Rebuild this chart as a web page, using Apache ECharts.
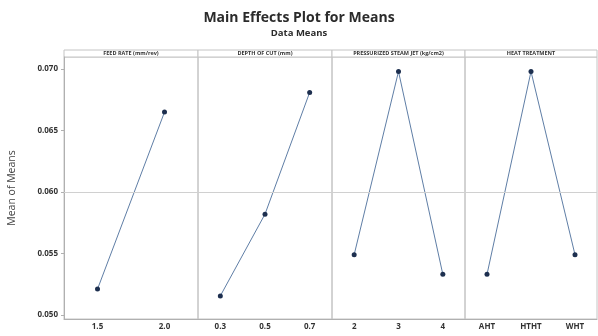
<!DOCTYPE html>
<html>
<head>
<meta charset="utf-8">
<script src="https://cdn.jsdelivr.net/npm/echarts@6/dist/echarts.min.js"></script>
<style>
  html, body { margin: 0; padding: 0; background: #fff; }
  #chart { width: 598px; height: 336px; }
</style>
</head>
<body>
<div id="chart"></div>
<script>
// factor levels and the mean of means at each level
const panelTitles = ['FEED RATE (mm/rev)', 'DEPTH OF CUT (mm)', 'PRESSURIZED STEAM JET (kg/cm2)', 'HEAT TREATMENT'];
const feedLevels = ['1.5', '2.0'];
const feedMeans = [0.0521, 0.0665];
const depthLevels = ['0.3', '0.5', '0.7'];
const depthMeans = [0.05155, 0.0582, 0.0681];
const steamLevels = ['2', '3', '4'];
const steamMeans = [0.0549, 0.0698, 0.0533];
const heatLevels = ['AHT', 'HTHT', 'WHT'];
const heatMeans = [0.0533, 0.0698, 0.0549];
const yTicks = [0.050, 0.055, 0.060, 0.065, 0.070];

const levels = [feedLevels, depthLevels, steamLevels, heatLevels];
const means = [feedMeans, depthMeans, steamMeans, heatMeans];
const grandMean = feedMeans.reduce((a, b) => a + b, 0) / feedMeans.length;

const panelLeft = [64, 198, 332, 465];
const panelWidth = [134, 134, 133, 132];
const plotTop = 57;
const plotBottom = 17;
const stripTop = 50;
const font = '"Open Sans", "Noto Sans", sans-serif';

const chart = echarts.init(document.getElementById('chart'));

const grids = panelLeft.map((left, i) => ({
  left,
  width: panelWidth[i],
  top: plotTop,
  bottom: plotBottom,
  show: true,
  borderColor: '#c4c4c4',
  borderWidth: 1,
}));

const xAxes = levels.map((cats, i) => ({
  type: 'category',
  gridIndex: i,
  data: cats,
  boundaryGap: true,
  axisLine: { lineStyle: { color: '#b0b0b0' } },
  axisTick: { show: false },
  axisLabel: { color: '#333', fontSize: 8, fontWeight: 'bold', fontFamily: font, margin: 4 },
  splitLine: { show: false },
}));

const yAxes = levels.map((cats, i) => ({
  type: 'value',
  gridIndex: i,
  min: 0.04967,
  max: 0.07098,
  name: i === 0 ? 'Mean of Means' : '',
  nameLocation: 'middle',
  nameGap: 46,
  nameTextStyle: { color: '#444', fontSize: 10.5, fontFamily: font },
  axisLine: { show: i === 0, lineStyle: { color: '#b0b0b0' } },
  axisTick: { show: i === 0, customValues: yTicks, length: 3, lineStyle: { color: '#b0b0b0' } },
  axisLabel: {
    show: i === 0,
    customValues: yTicks,
    color: '#333',
    fontSize: 8,
    fontWeight: 'bold',
    fontFamily: font,
    margin: 6,
    formatter: (v) => v.toFixed(3),
  },
  splitLine: { show: false },
}));

const series = means.map((vals, i) => ({
  type: 'line',
  xAxisIndex: i,
  yAxisIndex: i,
  data: vals,
  symbol: 'circle',
  symbolSize: 5,
  itemStyle: { color: '#1d2f4f' },
  lineStyle: { color: '#5f7ea6', width: 1 },
  animation: false,
  markLine: {
    silent: true,
    symbol: 'none',
    label: { show: false },
    lineStyle: { color: '#d0d0d0', type: 'solid', width: 1 },
    data: [{ yAxis: grandMean }],
  },
}));

// header strips above each panel
const strips = [];
panelLeft.forEach((left, i) => {
  strips.push({
    type: 'rect',
    shape: { x: left, y: stripTop, width: panelWidth[i], height: plotTop - stripTop },
    style: { fill: '#ffffff', stroke: '#c4c4c4', lineWidth: 1 },
    silent: true,
  });
  strips.push({
    type: 'text',
    x: left + panelWidth[i] / 2,
    y: stripTop + (plotTop - stripTop) / 2,
    style: {
      text: panelTitles[i],
      fill: '#333',
      font: 'bold 5.5px ' + font,
      align: 'center',
      verticalAlign: 'middle',
    },
    silent: true,
  });
});

chart.setOption({
  animation: false,
  backgroundColor: '#fff',
  title: [
    {
      text: 'Main Effects Plot for Means',
      left: 'center',
      top: 6,
      textStyle: { color: '#2b2b2b', fontSize: 14, fontWeight: 'bold', fontFamily: font },
    },
    {
      text: 'Data Means',
      left: 'center',
      top: 23,
      textStyle: { color: '#2b2b2b', fontSize: 9.5, fontWeight: 'bold', fontFamily: font },
    },
  ],
  grid: grids,
  xAxis: xAxes,
  yAxis: yAxes,
  series,
  graphic: strips,
});
</script>
</body>
</html>
